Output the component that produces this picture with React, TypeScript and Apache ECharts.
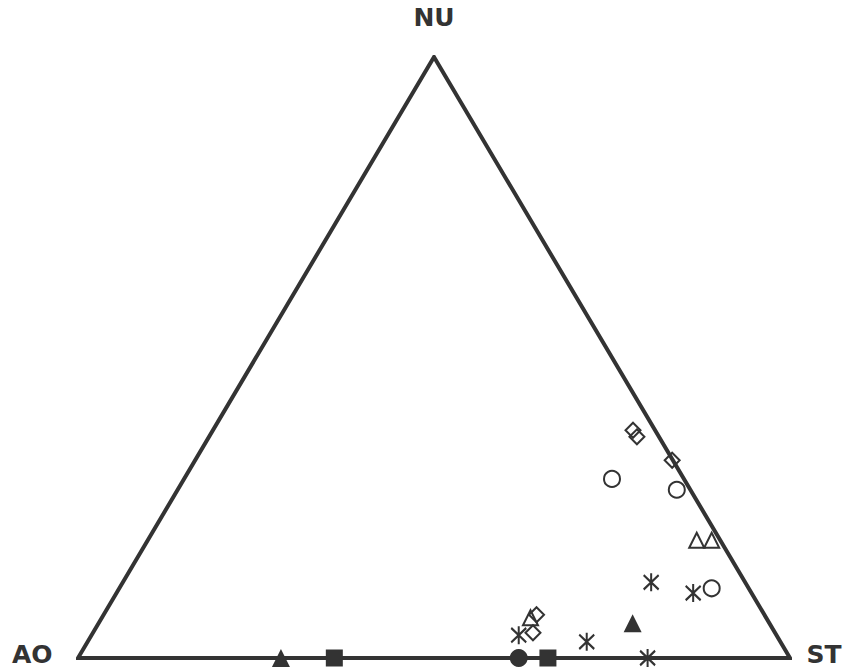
import React, { useEffect, useRef } from "react";
import * as echarts from "echarts";

// Ternary compositions [AO, NU, ST] in percent
const vertexNames = ["AO", "ST", "NU"];
const openDiamonds: number[][] = [
  [3.1, 37.9, 59.0],
  [3.1, 36.8, 60.1],
  [0.1, 32.9, 67.0],
  [32.0, 7.2, 60.8],
  [34.0, 4.2, 61.8],
];
const openCircles: number[][] = [
  [10.1, 29.8, 60.1],
  [1.9, 28.0, 70.1],
  [5.2, 11.6, 83.2],
];
const openTriangles: number[][] = [
  [3.3, 19.6, 77.1],
  [1.2, 19.6, 79.2],
  [33.1, 6.7, 60.2],
];
const asterisks: number[][] = [
  [13.2, 12.6, 74.2],
  [8.2, 10.8, 81.0],
  [36.2, 3.8, 60.0],
  [27.2, 2.7, 70.1],
  [20.0, 0.0, 80.0],
];
const filledTriangles: number[][] = [
  [19.2, 5.8, 75.0],
  [71.5, 0.0, 28.5],
];
const filledCircles: number[][] = [[38.1, 0.0, 61.9]];
const filledSquares: number[][] = [
  [64.0, 0.0, 36.0],
  [34.0, 0.0, 66.0],
];
// corners of the diagram as compositions
const corners: number[][] = [
  [100, 0, 0],
  [0, 0, 100],
  [0, 100, 0],
];

const toXY = (c: number[]) => [c[2] / 100 + c[1] / 200, c[1] / 100];

const INK = "#333333";
const ASTERISK = "path://M0,-10L0,10M-7,-8L7,8M-7,8L7,-8";

export default function App() {
  const ref = useRef<HTMLDivElement>(null);
  useEffect(() => {
    if (!ref.current) return;
    const chart = echarts.init(ref.current, undefined, { renderer: "svg" });
    const outline = [corners[0], corners[1], corners[2], corners[0], corners[1]].map(toXY);
    const openStyle = { color: "rgba(0,0,0,0)", borderColor: INK, borderWidth: 2, opacity: 1 };
    const filledStyle = { color: INK, opacity: 1 };
    const mk = (name: string, data: number[][], symbol: string, size: any, style: any) => ({
      name,
      type: "scatter",
      data: data.map(toXY),
      symbol,
      symbolSize: size,
      itemStyle: style,
      z: 5,
    });
    chart.setOption({
      animation: false,
      backgroundColor: "#ffffff",
      grid: { left: 78, right: 54, top: 57, bottom: 13, containLabel: false },
      xAxis: { type: "value", min: 0, max: 1, show: false },
      yAxis: { type: "value", min: 0, max: 1, show: false },
      series: [
        {
          name: "outline",
          type: "line",
          data: outline,
          symbol: "none",
          lineStyle: { color: INK, width: 4, join: "miter", cap: "butt", opacity: 1 },
          z: 2,
        },
        {
          name: "vertices",
          type: "scatter",
          symbolSize: 1,
          itemStyle: { color: "rgba(0,0,0,0)", opacity: 1 },
          data: corners.map((c, i) => {
            const pos = i === 0 ? "left" : i === 1 ? "right" : "top";
            const dist = i === 0 ? 25 : i === 1 ? 16 : 27;
            return {
              value: toXY(c),
              label: {
                show: true,
                formatter: vertexNames[i],
                position: pos,
                distance: dist,
                offset: i === 2 ? [0, 0] : [0, -4],
                fontFamily: "DejaVu Sans",
                fontWeight: "bold",
                fontSize: 25,
                color: INK,
                opacity: 1,
              },
            };
          }),
          z: 1,
        },
        mk("open diamonds", openDiamonds, "diamond", 15, openStyle),
        mk("open circles", openCircles, "circle", 16, openStyle),
        mk("open triangles", openTriangles, "triangle", 15, openStyle),
        mk("asterisks", asterisks, ASTERISK, [15, 18], { color: "rgba(0,0,0,0)", borderColor: INK, borderWidth: 2.2, opacity: 1 }),
        mk("filled triangles", filledTriangles, "triangle", 18, filledStyle),
        mk("filled circles", filledCircles, "circle", 18, filledStyle),
        mk("filled squares", filledSquares, "rect", 17, filledStyle),
      ],
    });
    return () => chart.dispose();
  }, []);
  return (
    <div
      ref={ref}
      style={{ position: "fixed", left: 0, top: 0, width: 844, height: 671, background: "#fff" }}
    />
  );
}
